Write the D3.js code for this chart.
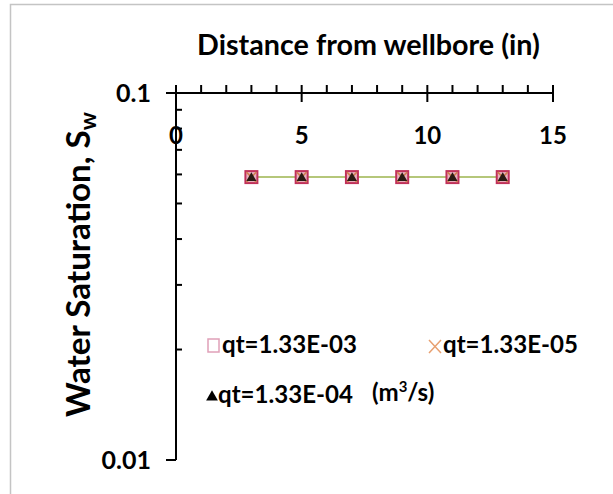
<!DOCTYPE html>
<html><head><meta charset="utf-8">
<script src="https://cdn.jsdelivr.net/npm/d3@7"></script>
<style>body{margin:0;background:#fff;} svg{display:block;}</style>
</head><body>
<svg id="c" width="613" height="494"></svg>
<script>
const distance = [3, 5, 7, 9, 11, 13];
const sw_133e03 = [0.059, 0.059, 0.059, 0.059, 0.059, 0.059];
const sw_133e04 = [0.059, 0.059, 0.059, 0.059, 0.059, 0.059];
const sw_133e05 = [0.059, 0.059, 0.059, 0.059, 0.059, 0.059];
const xTicks = [0, 5, 10, 15];
const yTicks = [0.1, 0.01];
const seriesNames = ["qt=1.33E-03", "qt=1.33E-05", "qt=1.33E-04"];

const svg = d3.select("#c");
const font = "Lato, 'Open Sans', sans-serif";
function fit(sel, w) {
  const n = sel.node();
  const cur = +sel.attr("font-size");
  const len = n.getBBox().width;
  sel.attr("font-size", cur * w / len);
}
// frame
svg.append("path").attr("d","M10.5,494 V4.5 H613").attr("fill","none").attr("stroke","#c4c4c4").attr("stroke-width",1.5);

const x = d3.scaleLinear().domain([0,15]).range([176,553]);
const y = d3.scaleLog().domain([0.01,0.1]).range([460,93]);

const g = svg.append("g");
g.append("line").attr("x1",166).attr("x2",x(15)).attr("y1",y(0.1)).attr("y2",y(0.1)).attr("stroke","#000").attr("stroke-width",2);
d3.range(0,16).forEach(v=>{
  const major = v%5===0;
  g.append("line").attr("x1",x(v)).attr("x2",x(v))
   .attr("y1",y(0.1)-8).attr("y2",major && v>0 ? y(0.1)+9 : y(0.1))
   .attr("stroke","#000").attr("stroke-width",2);
});
g.append("line").attr("x1",x(0)).attr("x2",x(0)).attr("y1",y(0.1)).attr("y2",y(0.01)).attr("stroke","#000").attr("stroke-width",2);
yTicks.forEach(v=>{
  g.append("line").attr("x1",x(0)-10).attr("x2",x(0)).attr("y1",y(v)).attr("y2",y(v)).attr("stroke","#000").attr("stroke-width",2);
});
d3.range(2,10).forEach(k=>{
  const v=k*0.01;
  g.append("line").attr("x1",x(0)).attr("x2",x(0)+6).attr("y1",y(v)).attr("y2",y(v)).attr("stroke","#000").attr("stroke-width",2);
});
xTicks.forEach(v=>{
  g.append("text").attr("x",x(v)).attr("y",144).attr("text-anchor","middle")
   .attr("font-family",font).attr("font-weight",700).attr("font-size",24).text(v);
});
yTicks.forEach(v=>{
  g.append("text").attr("x",151).attr("y",y(v)+9).attr("text-anchor","end")
   .attr("font-family",font).attr("font-weight",700).attr("font-size",25).text(v);
});
// title
const t = svg.append("text").attr("x",368.5).attr("y",55).attr("text-anchor","middle")
  .attr("font-family",font).attr("font-weight",700).attr("font-size",24).text("Distance from wellbore (in)");
fit(t, 343);
// y label
const yl = svg.append("text").attr("transform","translate(90,264.5) rotate(-90)").attr("text-anchor","middle")
  .attr("font-family",font).attr("font-weight",700).attr("font-size",24);
yl.append("tspan").text("Water Saturation, S");
yl.append("tspan").attr("font-size","0.68em").attr("dy","0.25em").text("w");
(function(){const n=yl.node(); const len=n.getComputedTextLength(); yl.attr("font-size",24*305/len);})();

// line
const line = d3.line().x((d,i)=>x(distance[i])).y(d=>y(d));
svg.append("path").datum(sw_133e04).attr("d",line).attr("fill","none").attr("stroke","#b5c77a").attr("stroke-width",2);

svg.selectAll(".sq").data(sw_133e03).join("rect")
  .attr("x",(d,i)=>x(distance[i])-6).attr("y",d=>y(d)-6).attr("width",12).attr("height",12)
  .attr("fill","#e7b0c0").attr("stroke","#c0305a").attr("stroke-width",2);
svg.selectAll(".xm").data(sw_133e05).join("path")
  .attr("d","M-5,-5L5,5M-5,5L5,-5")
  .attr("transform",(d,i)=>`translate(${x(distance[i])},${y(d)})`)
  .attr("stroke","#d08050").attr("stroke-width",1.5);
svg.selectAll(".tr").data(sw_133e04).join("path")
  .attr("d",d3.symbol().type(d3.symbolTriangle).size(45))
  .attr("transform",(d,i)=>`translate(${x(distance[i])},${y(d)+1})`)
  .attr("fill","#2a1a12");

// legend
const lf = svg.append("g").attr("font-family",font).attr("font-weight",700);
lf.append("rect").attr("x",208).attr("y",339).attr("width",11).attr("height",13).attr("fill","none").attr("stroke","#e0a0b8").attr("stroke-width",1.5);
const l1 = lf.append("text").attr("x",222).attr("y",353).attr("font-size",24).text(seriesNames[0]);
fit(l1, 135);
const fs = +l1.attr("font-size");
lf.append("path").attr("d","M429,340L441,353M429,353L441,340").attr("stroke","#e8a070").attr("stroke-width",1.5);
lf.append("text").attr("x",443).attr("y",353).attr("font-size",fs).text(seriesNames[1]);
lf.append("path").attr("d",d3.symbol().type(d3.symbolTriangle).size(60)).attr("transform","translate(212,397)").attr("fill","#000");
lf.append("text").attr("x",218).attr("y",403).attr("font-size",fs).text(seriesNames[2]);
const u = lf.append("text").attr("x",372).attr("y",401).attr("font-size",fs);
u.append("tspan").text("(m");
u.append("tspan").attr("font-size",fs*0.62).attr("dy",-9).text("3");
u.append("tspan").attr("dy",9).text("/s)");
</script>
</body></html>
